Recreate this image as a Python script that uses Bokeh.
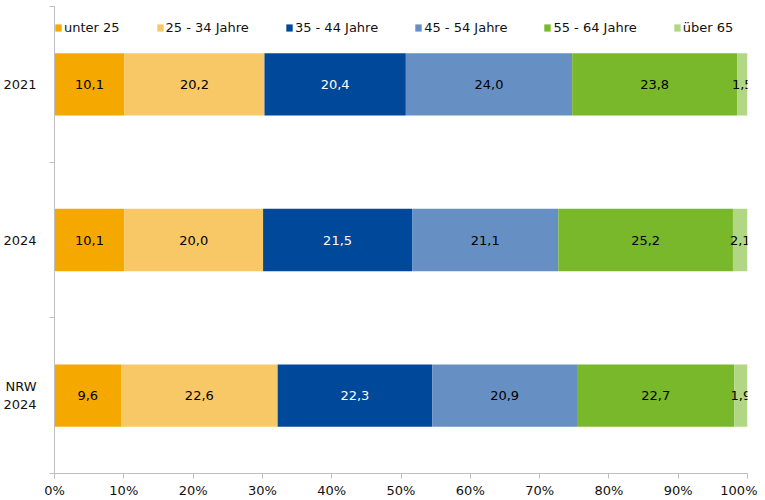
from bokeh.plotting import figure
from bokeh.models import ColumnDataSource, FixedTicker, Legend
from bokeh.core.properties import value
from bokeh.embed import file_html
from bokeh.resources import INLINE

categories = ["2021", "2024", "NRW\n2024"]
series_names = ["unter 25", "25 - 34 Jahre", "35 - 44 Jahre", "45 - 54 Jahre", "55 - 64 Jahre", "über 65"]
unter25 = [10.1, 10.1, 9.6]
j25_34 = [20.2, 20.0, 22.6]
j35_44 = [20.4, 21.5, 22.3]
j45_54 = [24.0, 21.1, 20.9]
j55_64 = [23.8, 25.2, 22.7]
ueber65 = [1.5, 2.1, 1.9]
x_ticks = [0, 10, 20, 30, 40, 50, 60, 70, 80, 90, 100]

colors = ["#F5A800", "#F8C766", "#00489A", "#6690C3", "#78B82A", "#B1D784"]
label_colors = ["#000000", "#000000", "#FFFFFF", "#000000", "#000000", "#000000"]
FONT = "DejaVu Sans"

series = [unter25, j25_34, j35_44, j45_54, j55_64, ueber65]
n = len(categories)
ypos = [n - 1 - i for i in range(n)]

W, H = 757, 500
BL, BR, BT, BB = 53, 10, 6, 26
FH = H - BT - BB
p = figure(width=W, height=H, output_backend="svg", toolbar_location=None,
           x_range=(0, 100), y_range=(-0.5, n - 0.5),
           min_border_left=BL, min_border_right=BR, min_border_top=BT, min_border_bottom=BB)
p.outline_line_color = None
p.grid.grid_line_color = None
p.background_fill_color = "white"

left = [0.0] * n
items = []
for name, vals, col, lcol in zip(series_names, series, colors, label_colors):
    right = [l + v for l, v in zip(left, vals)]
    src = ColumnDataSource(dict(
        y=ypos, left=left, right=right,
        mid=[(l + r) / 2 for l, r in zip(left, right)],
        lab=[f"{v:.1f}".replace(".", ",") for v in vals]))
    r = p.hbar(y="y", left="left", right="right", height=0.4, source=src,
               fill_color=col, line_color=None)
    p.text(x="mid", y="y", text="lab", source=src, text_align="center",
           text_baseline="middle", text_font=value(FONT), text_font_size="13px",
           text_color=lcol)
    items.append((name, [r]))
    left = right

legend = Legend(items=items, orientation="horizontal", location=(0, FH - 30),
                background_fill_alpha=0, border_line_color=None, padding=0, margin=0,
                spacing=36, glyph_width=8, glyph_height=9, label_standoff=2,
                label_text_font=FONT, label_text_font_size="13px", label_text_color="#111111")
p.add_layout(legend, "center")

# x axis
p.xaxis.ticker = FixedTicker(ticks=x_ticks)
p.xaxis.major_label_overrides = {t: f"{t}%" for t in x_ticks}
p.xaxis.axis_line_color = "#BFBFBF"
p.xaxis.major_tick_line_color = "#BFBFBF"
p.xaxis.major_tick_out = 5
p.xaxis.major_tick_in = 0
p.xaxis.minor_tick_line_color = None
p.xaxis.major_label_text_font = FONT
p.xaxis.major_label_text_font_size = "13px"
p.xaxis.major_label_text_color = "#111111"
p.xaxis.major_label_standoff = 4

# y axis
bounds = [i - 0.5 for i in range(n + 1)]
p.yaxis.ticker = FixedTicker(ticks=ypos, minor_ticks=bounds)
p.yaxis.major_label_overrides = {y: c for y, c in zip(ypos, categories)}
p.yaxis.axis_line_color = "#BFBFBF"
p.yaxis.major_tick_line_color = None
p.yaxis.minor_tick_line_color = "#BFBFBF"
p.yaxis.minor_tick_out = 5
p.yaxis.minor_tick_in = 0
p.yaxis.major_label_text_font = FONT
p.yaxis.major_label_text_font_size = "13px"
p.yaxis.major_label_text_color = "#111111"
p.yaxis.major_label_standoff = 12

open("out.html", "w").write(file_html(p, INLINE))
